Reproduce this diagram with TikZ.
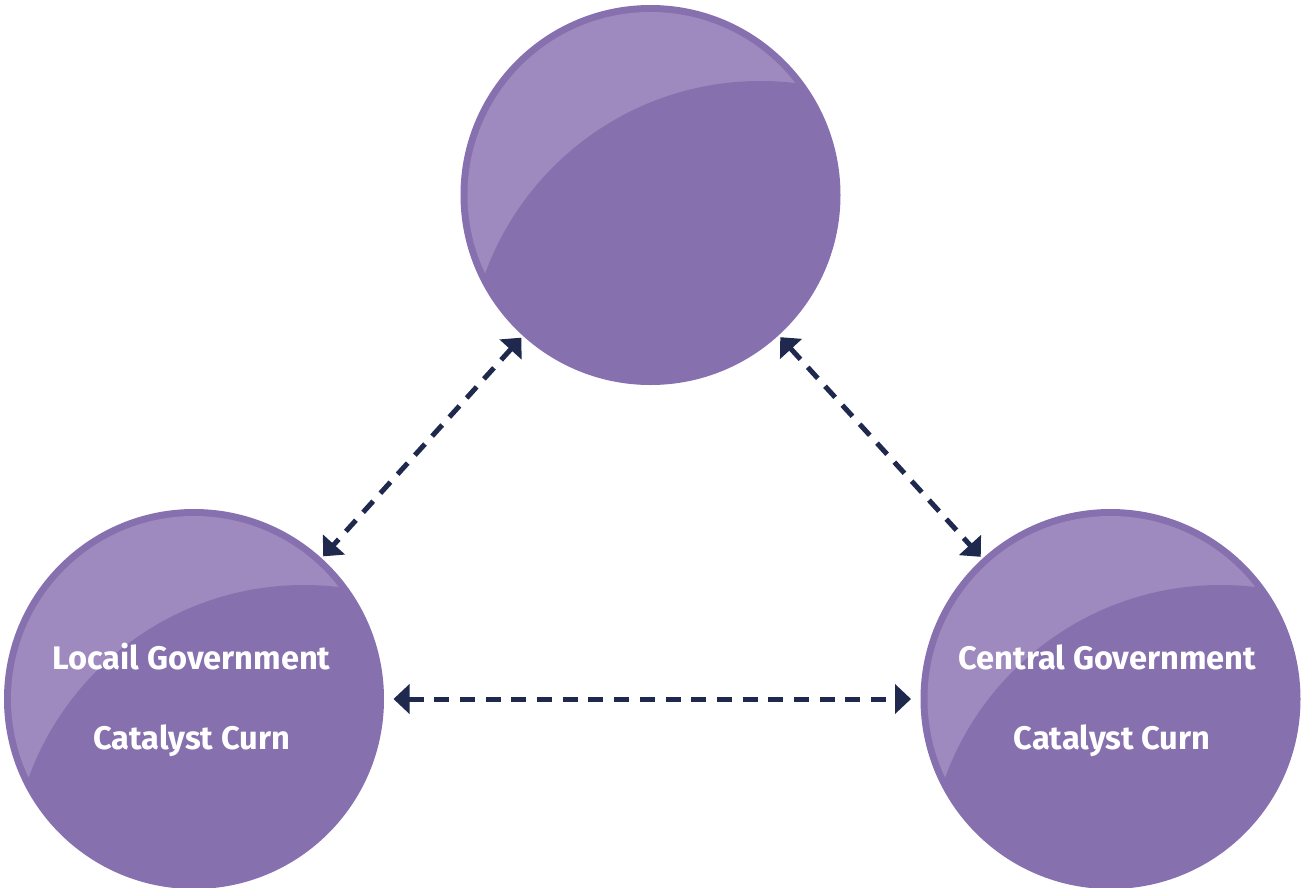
\documentclass[tikz,border=0pt]{standalone}
\usepackage{fontspec}
\setmainfont{Fira Sans}
\usetikzlibrary{arrows.meta,calc}
\definecolor{pdark}{HTML}{8670AE}
\definecolor{plight}{HTML}{9E8ABE}
\definecolor{pborder}{HTML}{8770B0}
\definecolor{navy}{HTML}{1F294D}
\begin{document}
\begin{tikzpicture}[x=1pt,y=-1pt,
  circ/.style={circle, minimum size=377pt, inner sep=0pt, outer sep=0pt,
    fill=pdark, draw=pborder, line width=3pt,
    path picture={
      \fill[plight] (path picture bounding box.center) circle (183pt);
      \fill[pdark] ($(path picture bounding box.center)+(110,179)$) circle (293pt);
    }},
  lbl/.style={text=white, font=\fontsize{32.6}{38}\selectfont\bfseries, inner sep=0pt, anchor=base},
  link/.style={navy, line width=5pt, dash pattern=on 15pt off 10.7pt,
    {Triangle[length=16pt,width=29pt]}-{Triangle[length=16pt,width=29pt]}}
]
\clip (0,0) rectangle (1302,887);
\fill[white] (0,0) rectangle (1302,887);
\node[circ] (top) at (650.5,195) {};
\node[circ] (left) at (194,699) {};
\node[circ] (right) at (1110.5,699) {};
\node[lbl] (l1) at (191.5,669) {Locail Government};
\node[lbl] (l2) at (191.5,749) {Catalyst Curn};
\node[lbl] (r1) at (1107.5,669) {Central Government};
\node[lbl] (r2) at (1112,749) {Catalyst Curn};
\draw[link, shorten <=4pt, shorten >=4pt] (top) -- (left);
\draw[link, shorten <=4pt, shorten >=4pt] (top) -- (right);
\draw[link, shorten <=11pt, shorten >=11pt] (left) -- (right);
\end{tikzpicture}
\end{document}
